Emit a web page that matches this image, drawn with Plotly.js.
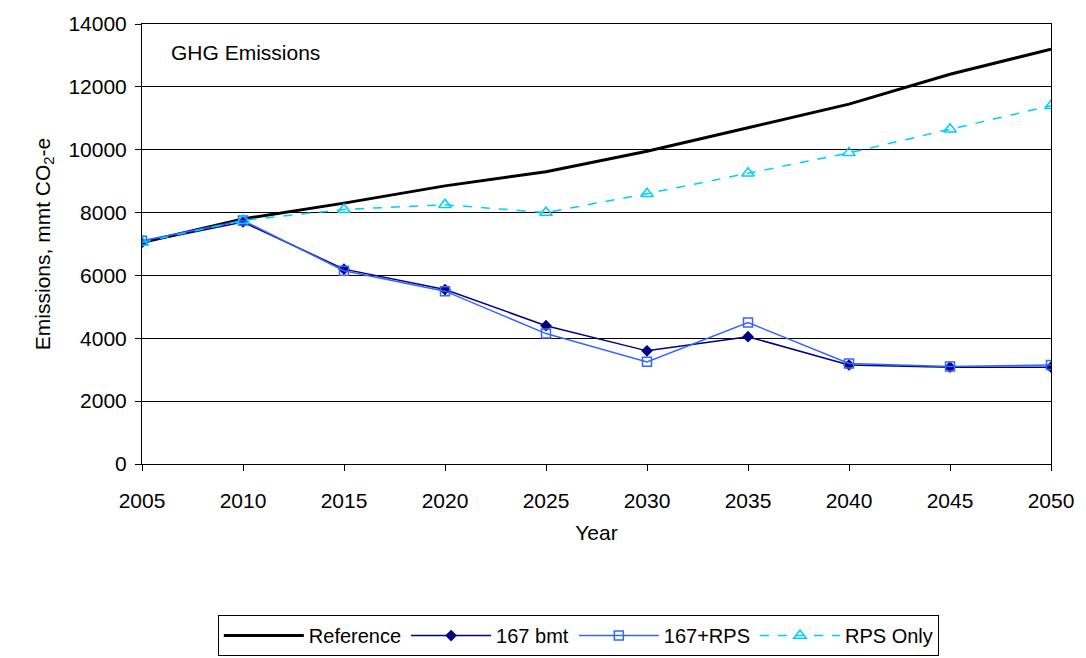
<!DOCTYPE html>
<html>
<head>
<script src="https://cdn.plot.ly/plotly-3.0.1.min.js"></script>
<style>body{margin:0;background:#fff}#chart{width:1086px;height:658px}</style>
</head>
<body>
<div id="chart"></div>
<script>
var years = [2005, 2010, 2015, 2020, 2025, 2030, 2035, 2040, 2045, 2050];
var reference = [7050, 7800, 8300, 8850, 9300, 9950, 10700, 11450, 12400, 13200];
var bmt167 = [7050, 7700, 6200, 5550, 4400, 3600, 4050, 3150, 3080, 3080];
var rps167 = [7100, 7750, 6150, 5500, 4150, 3250, 4500, 3200, 3100, 3150];
var rpsOnly = [7050, 7750, 8100, 8250, 8000, 8600, 9250, 9900, 10650, 11400];

var data = [
    {x: years, y: reference, name: "Reference", mode: 'lines', line: {color: 'black', width: 3}},
    {x: years, y: bmt167, name: "167 bmt", mode: 'lines+markers', line: {color: '#000080', width: 1.5},
        marker: {symbol: 'diamond', size: 9, color: '#000080'}},
    {x: years, y: rps167, name: "167+RPS", mode: 'lines+markers', line: {color: '#3366ff', width: 1.5},
        marker: {symbol: 'square-open', size: 9, color: '#3366ff', line: {width: 1.5}}},
    {x: years, y: rpsOnly, name: "RPS Only", mode: 'lines+markers', line: {color: '#00ccff', width: 1.5, dash: 'dash'},
        marker: {symbol: 'triangle-up-open', size: 11, color: '#00ccff', line: {width: 1.5}}}
];

var layout = {
    width: 1086, height: 658,
    margin: {l: 142, r: 35, t: 24, b: 194},
    paper_bgcolor: 'white', plot_bgcolor: 'white',
    font: {family: 'Liberation Sans, Arial, sans-serif', size: 21, color: 'black'},
    showlegend: true,
    xaxis: {
        range: [2005, 2050], dtick: 5, tickformat: 'd', showgrid: false, zeroline: false,
        showline: true, linecolor: 'black', mirror: true,
        ticks: 'outside', ticklen: 6, tickcolor: 'black', ticklabelstandoff: 12,
        title: {text: "Year", font: {size: 21}, standoff: 14}
    },
    yaxis: {
        range: [0, 14000], dtick: 2000, tickformat: 'd', showgrid: true, gridcolor: '#000', gridwidth: 1,
        zeroline: false, showline: true, linecolor: 'black', mirror: true,
        ticks: 'outside', ticklen: 6, tickcolor: 'black', ticklabelstandoff: 4,
        title: {text: "Emissions, mmt CO<sub>2</sub>-e", font: {size: 21}, standoff: 12}
    },
    legend: {
        orientation: 'h', x: 0.48, xanchor: 'center', yref: 'container', y: 0.003, yanchor: 'bottom',
        bordercolor: 'black', borderwidth: 1, font: {size: 20}, itemwidth: 80
    },
    annotations: [{
        text: "GHG Emissions", xref: 'paper', yref: 'paper', x: 0.03, y: 0.935,
        xanchor: 'left', yanchor: 'middle', showarrow: false, font: {size: 21}
    }]
};

Plotly.newPlot('chart', data, layout, {displayModeBar: false});
</script>
</body>
</html>
